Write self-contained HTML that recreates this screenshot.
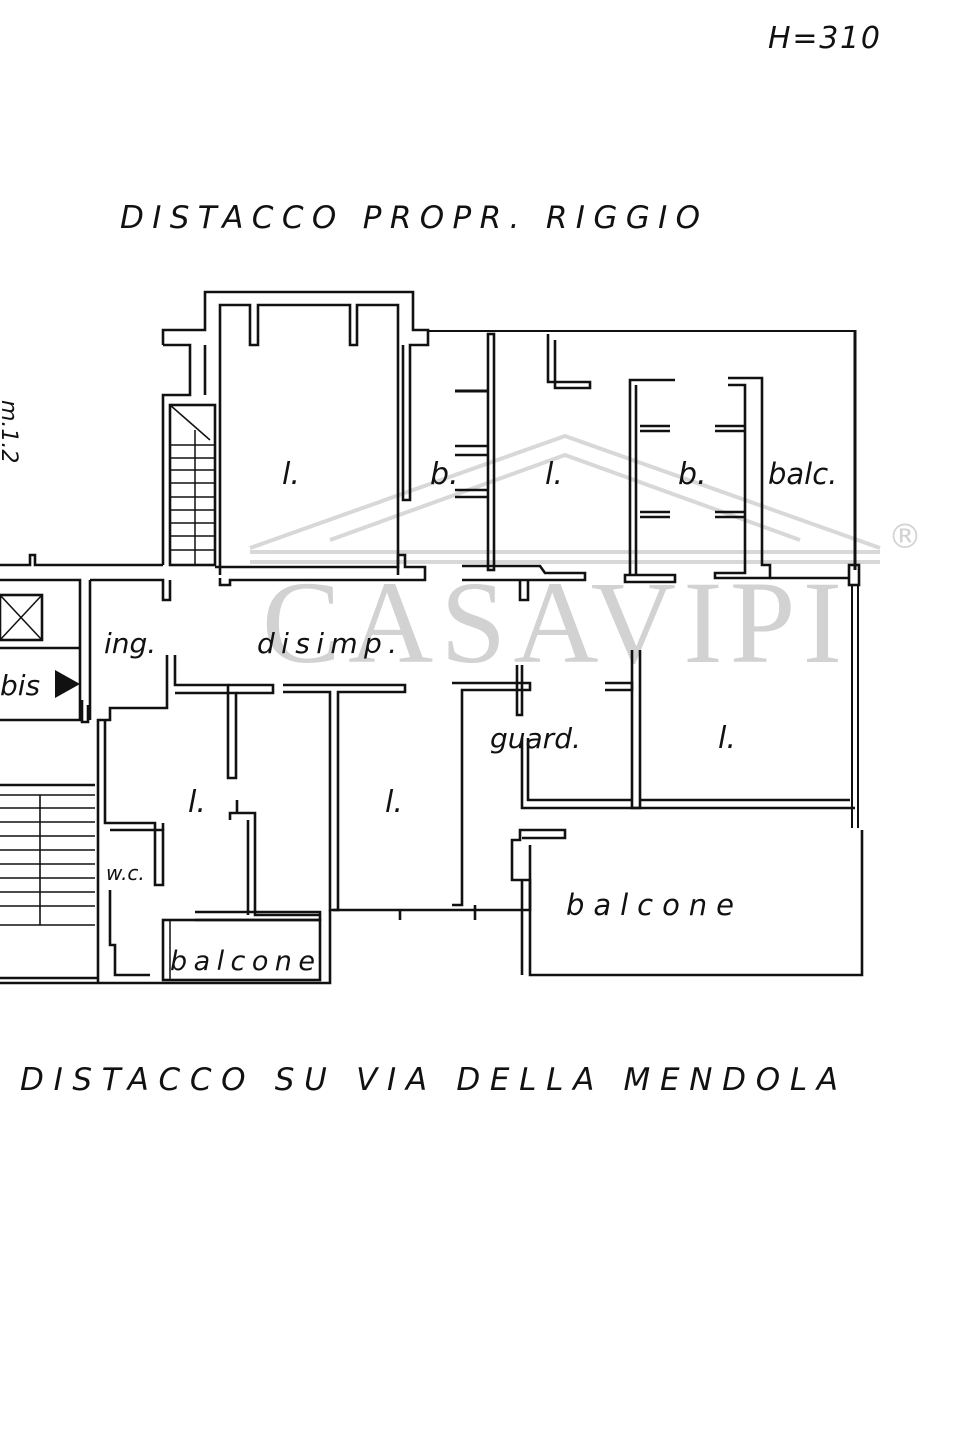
<!DOCTYPE html>
<html><head><meta charset="utf-8"><style>
html,body{margin:0;padding:0;background:#fff;}
svg{display:block}
text{font-family:"DejaVu Sans","Liberation Sans",sans-serif;font-style:italic;fill:#111}
</style></head><body>
<svg width="954" height="1431" viewBox="0 0 954 1431" xmlns="http://www.w3.org/2000/svg">
<rect width="954" height="1431" fill="#fff"/>
<!-- watermark -->
<g fill="none" stroke="#d8d8d8" stroke-width="4">
<polyline points="250,548 565,436 880,548"/>
<polyline points="330,540 565,455 800,540"/>
<line x1="250" y1="552" x2="880" y2="552"/>
<line x1="250" y1="562" x2="880" y2="562"/>
</g>
<text x="262" y="662" textLength="580" style="font-family:'Liberation Serif',serif;font-style:normal;font-size:118px;fill:#d2d2d2">CASAVIPI</text>
<text x="888" y="548" style="font-style:normal;font-size:34px;fill:#d2d2d2">®</text>

<g fill="none" stroke="#111" stroke-width="2.6" stroke-linejoin="miter">
<!-- top block -->
<polyline points="163,345 163,330 205,330 205,292 413,292 413,330 428,330 428,345 410,345 410,500 403,500 403,345"/>
<polyline points="163,345 190,345 190,395 163,395 163,565"/>
<polyline points="205,345 205,395"/>
<polyline points="220,575 220,305 250,305 250,345 258,345 258,305 350,305 350,345 357,345 357,305 398,305 398,575"/>
<!-- stair -->
<rect x="170" y="405" width="45" height="160"/>
<line x1="170" y1="405" x2="210" y2="440" stroke-width="1.5"/>
<line x1="195" y1="430" x2="195" y2="565" stroke-width="1.5"/>
<g stroke-width="1.5"><line x1="170" y1="445" x2="215" y2="445"/><line x1="170" y1="458" x2="215" y2="458"/><line x1="170" y1="470" x2="215" y2="470"/><line x1="170" y1="483" x2="215" y2="483"/><line x1="170" y1="497" x2="215" y2="497"/><line x1="170" y1="510" x2="215" y2="510"/><line x1="170" y1="523" x2="215" y2="523"/><line x1="170" y1="536" x2="215" y2="536"/><line x1="170" y1="550" x2="215" y2="550"/></g>
<!-- top line right -->
<line x1="428" y1="331" x2="855" y2="331" stroke-width="2"/>
<line x1="855" y1="330" x2="855" y2="570" stroke-width="3"/>
<rect x="849" y="565" width="10" height="20"/>
<line x1="858" y1="585" x2="858" y2="828" stroke-width="2"/>
<line x1="852" y1="585" x2="852" y2="828" stroke-width="2"/>
<!-- b1 -->
<rect x="488" y="334" width="6" height="236"/>
<line x1="455" y1="391" x2="488" y2="391" stroke-width="3"/>
<line x1="455" y1="446" x2="488" y2="446"/><line x1="455" y1="455" x2="488" y2="455"/>
<line x1="455" y1="490" x2="488" y2="490"/><line x1="455" y1="497" x2="488" y2="497"/>
<!-- corridor top walls -->
<polyline points="215,567 398,567 398,555 405,555 405,567 425,567 425,580 230,580 230,585 220,585 220,578"/>
<polyline points="462,566 540,566 545,573 585,573 585,580 462,580 z"/>
<polyline points="520,580 520,600 528,600 528,580"/>
<!-- L stub -->
<polyline points="548,334 548,382 590,382 590,388 555,388 555,340"/>
<!-- b2 -->
<polyline points="675,380 630,380 630,575 675,575 675,582 625,582 625,575 630,575"/>
<line x1="636" y1="385" x2="636" y2="575"/>
<line x1="640" y1="426" x2="670" y2="426"/><line x1="640" y1="431" x2="670" y2="431"/>
<line x1="640" y1="512" x2="670" y2="512"/><line x1="640" y1="517" x2="670" y2="517"/>
<polyline points="728,378 762,378 762,565 770,565 770,578 715,578 715,573 745,573 745,385 728,385 z"/>
<line x1="715" y1="426" x2="745" y2="426"/><line x1="715" y1="431" x2="745" y2="431"/>
<line x1="715" y1="512" x2="745" y2="512"/><line x1="715" y1="517" x2="745" y2="517"/>
<line x1="770" y1="578" x2="850" y2="578"/>
<!-- left corridor -->
<polyline points="0,565 30,565 30,555 35,555 35,565 163,565"/>
<polyline points="0,580 80,580 80,720 0,720"/>
<polyline points="90,580 163,580 163,600 170,600 170,580"/>
<polyline points="90,580 90,720"/>
<rect x="0" y="595" width="42" height="45"/>
<line x1="0" y1="595" x2="42" y2="640" stroke-width="1.5"/>
<line x1="42" y1="595" x2="0" y2="640" stroke-width="1.5"/>
<polyline points="0,648 80,648"/>
<polyline points="82,700 82,722 88,722 88,705"/>
<!-- disimp bottom walls -->
<polyline points="167,655 167,708 110,708 110,720 98,720 98,983"/>
<polyline points="175,655 175,685 228,685 228,778 236,778 236,693 175,693"/>
<polyline points="228,685 273,685 273,693 236,693"/>
<polyline points="283,685 405,685 405,692 338,692 338,910 330,910 330,692 283,692 z"/>
<polyline points="452,683 530,683 530,690 462,690 462,905 452,905 z"/>
<polyline points="517,665 517,715 522,715 522,665"/>
<polyline points="605,683 632,683 632,690 605,690 z"/>
<polyline points="632,650 632,808 640,808 640,650 z"/>
<polyline points="522,738 522,808 855,808"/>
<polyline points="528,738 528,800 632,800"/>
<polyline points="640,800 850,800"/>
<!-- left rooms -->
<polyline points="105,720 105,823 155,823 155,885 163,885 163,830 110,830"/>
<polyline points="163,830 163,823"/>
<polyline points="110,890 110,945 115,945 115,975 150,975"/>
<polyline points="230,820 230,813 255,813 255,915 320,915"/>
<line x1="237" y1="813" x2="237" y2="800"/>
<line x1="248" y1="820" x2="248" y2="915"/>
<polyline points="195,912 320,912 320,920 195,920"/>
<rect x="163" y="920" width="157" height="60"/>
<line x1="170" y1="920" x2="170" y2="980" stroke-width="1.5"/>
<polyline points="0,983 330,983 330,910"/>
<polyline points="333,910 530,910 530,880 512,880 512,840 520,840 520,830 565,830 565,838 522,838"/>
<line x1="400" y1="910" x2="400" y2="920"/>
<line x1="475" y1="905" x2="475" y2="920"/>
<line x1="0" y1="978" x2="98" y2="978"/>
<!-- left stairs -->
<g stroke-width="1.6">
<line x1="0" y1="795" x2="95" y2="795"/><line x1="0" y1="808" x2="95" y2="808"/><line x1="0" y1="822" x2="95" y2="822"/><line x1="0" y1="836" x2="95" y2="836"/><line x1="0" y1="850" x2="95" y2="850"/><line x1="0" y1="864" x2="95" y2="864"/><line x1="0" y1="878" x2="95" y2="878"/><line x1="0" y1="892" x2="95" y2="892"/><line x1="0" y1="906" x2="95" y2="906"/><line x1="0" y1="925" x2="95" y2="925"/>
<line x1="40" y1="795" x2="40" y2="925"/>
</g>
<line x1="0" y1="785" x2="95" y2="785"/>
<!-- right balcone -->
<polyline points="530,845 530,975 862,975 862,830"/>
<line x1="522" y1="880" x2="522" y2="975"/>
</g>
<polygon points="55,670 80,684 55,698" fill="#111"/>

<!-- text -->
<text x="768" y="48" font-size="30" textLength="112">H=310</text>
<text x="120" y="228" font-size="31" textLength="580">DISTACCO PROPR. RIGGIO</text>
<text x="20" y="1090" font-size="31" textLength="818">DISTACCO SU VIA DELLA MENDOLA</text>
<text transform="translate(2,400) rotate(90)" font-size="22">m.1.2</text>
<g font-size="30">
<text x="282" y="484">l.</text>
<text x="430" y="484">b.</text>
<text x="545" y="484">l.</text>
<text x="678" y="484">b.</text>
<text x="768" y="484" font-size="29">balc.</text>
<text x="104" y="653" font-size="28">ing.</text>
<text x="257" y="653" font-size="28" textLength="140">disimp.</text>
<text x="0" y="695" font-size="28">bis</text>
<text x="490" y="748" font-size="28">guard.</text>
<text x="718" y="748">l.</text>
<text x="188" y="812">l.</text>
<text x="385" y="812">l.</text>
<text x="106" y="880" font-size="20">w.c.</text>
<text x="170" y="970" font-size="27" textLength="145">balcone</text>
<text x="566" y="915" font-size="29" textLength="168">balcone</text>
</g>
</svg>
</body></html>
